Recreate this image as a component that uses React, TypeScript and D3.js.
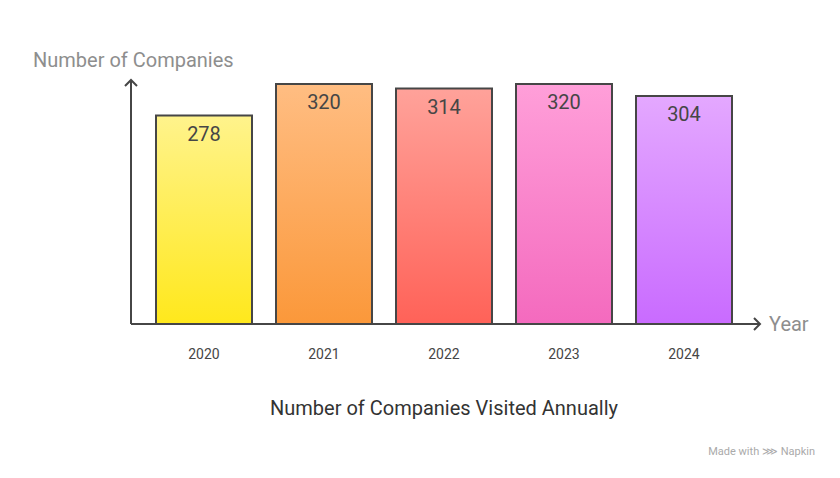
import React, { useRef, useEffect } from "react";
import * as d3 from "d3";

const years = ["2020", "2021", "2022", "2023", "2024"];
const companies = [278, 320, 314, 320, 304];
const topColors = ["#fff38c", "#ffbd82", "#ffa29a", "#ff9fd9", "#e4a8ff"];
const bottomColors = ["#ffe81c", "#fb983a", "#ff6258", "#f46abe", "#c96bff"];

const App = () => {
  const svgRef = useRef(null);

  useEffect(() => {
    const svg = d3.select(svgRef.current);
    svg.selectAll("*").remove();

    const font = "Roboto, 'Noto Sans', sans-serif";
    const axisX = 131;
    const baseY = 324;

    const xScale = d3.scaleBand()
      .domain(years)
      .range([144, 744])
      .paddingInner(0.2)
      .paddingOuter(0.1);

    const yScale = d3.scaleLinear()
      .domain([0, 320])
      .range([baseY, 84]);

    const defs = svg.append("defs");
    years.forEach((y, i) => {
      const g = defs.append("linearGradient")
        .attr("id", `grad${i}`)
        .attr("x1", 0).attr("y1", 0).attr("x2", 0).attr("y2", 1);
      g.append("stop").attr("offset", "0%").attr("stop-color", topColors[i]);
      g.append("stop").attr("offset", "100%").attr("stop-color", bottomColors[i]);
    });

    // bars
    svg.selectAll(".bar")
      .data(companies)
      .enter()
      .append("rect")
      .attr("x", (d, i) => xScale(years[i]))
      .attr("y", d => yScale(d))
      .attr("width", xScale.bandwidth())
      .attr("height", d => baseY - yScale(d))
      .attr("fill", (d, i) => `url(#grad${i})`)
      .attr("stroke", "#464646")
      .attr("stroke-width", 2);

    // value labels
    svg.selectAll(".val")
      .data(companies)
      .enter()
      .append("text")
      .attr("x", (d, i) => xScale(years[i]) + xScale.bandwidth() / 2)
      .attr("y", d => yScale(d) + 25)
      .attr("text-anchor", "middle")
      .attr("font-family", font)
      .attr("font-size", "20px")
      .attr("fill", "#464646")
      .text(d => d);

    // year labels
    svg.selectAll(".yr")
      .data(years)
      .enter()
      .append("text")
      .attr("x", d => xScale(d) + xScale.bandwidth() / 2)
      .attr("y", 359)
      .attr("text-anchor", "middle")
      .attr("font-family", font)
      .attr("font-size", "14px")
      .attr("fill", "#464646")
      .text(d => d);

    // axes
    svg.append("line")
      .attr("x1", axisX).attr("y1", baseY)
      .attr("x2", axisX).attr("y2", 80)
      .attr("stroke", "#464646").attr("stroke-width", 2);
    svg.append("path")
      .attr("d", `M${axisX - 6},${86} L${axisX},${80} L${axisX + 6},${86}`)
      .attr("fill", "none").attr("stroke", "#464646").attr("stroke-width", 2);

    svg.append("line")
      .attr("x1", axisX).attr("y1", baseY)
      .attr("x2", 760).attr("y2", baseY)
      .attr("stroke", "#464646").attr("stroke-width", 2);
    svg.append("path")
      .attr("d", `M${754},${baseY - 6} L${760},${baseY} L${754},${baseY + 6}`)
      .attr("fill", "none").attr("stroke", "#464646").attr("stroke-width", 2);

    // axis titles
    svg.append("text")
      .attr("x", 33).attr("y", 67)
      .attr("font-family", font)
      .attr("font-size", "20px")
      .attr("fill", "#8e8e8e")
      .text("Number of Companies");

    svg.append("text")
      .attr("x", 769).attr("y", 331)
      .attr("font-family", font)
      .attr("font-size", "20px")
      .attr("fill", "#8e8e8e")
      .text("Year");

    // chart title
    svg.append("text")
      .attr("x", 444).attr("y", 415)
      .attr("text-anchor", "middle")
      .attr("font-family", font)
      .attr("font-size", "20px")
      .attr("fill", "#333")
      .text("Number of Companies Visited Annually");

    svg.append("text")
      .attr("x", 815).attr("y", 455)
      .attr("text-anchor", "end")
      .attr("font-family", font)
      .attr("font-size", "11px")
      .attr("fill", "#aaa")
      .text("Made with ⋙ Napkin");
  }, []);

  return (
    <svg
      ref={svgRef}
      width={840}
      height={478}
      style={{ position: "absolute", left: 0, top: 0, background: "white" }}
    />
  );
};

export default App;
